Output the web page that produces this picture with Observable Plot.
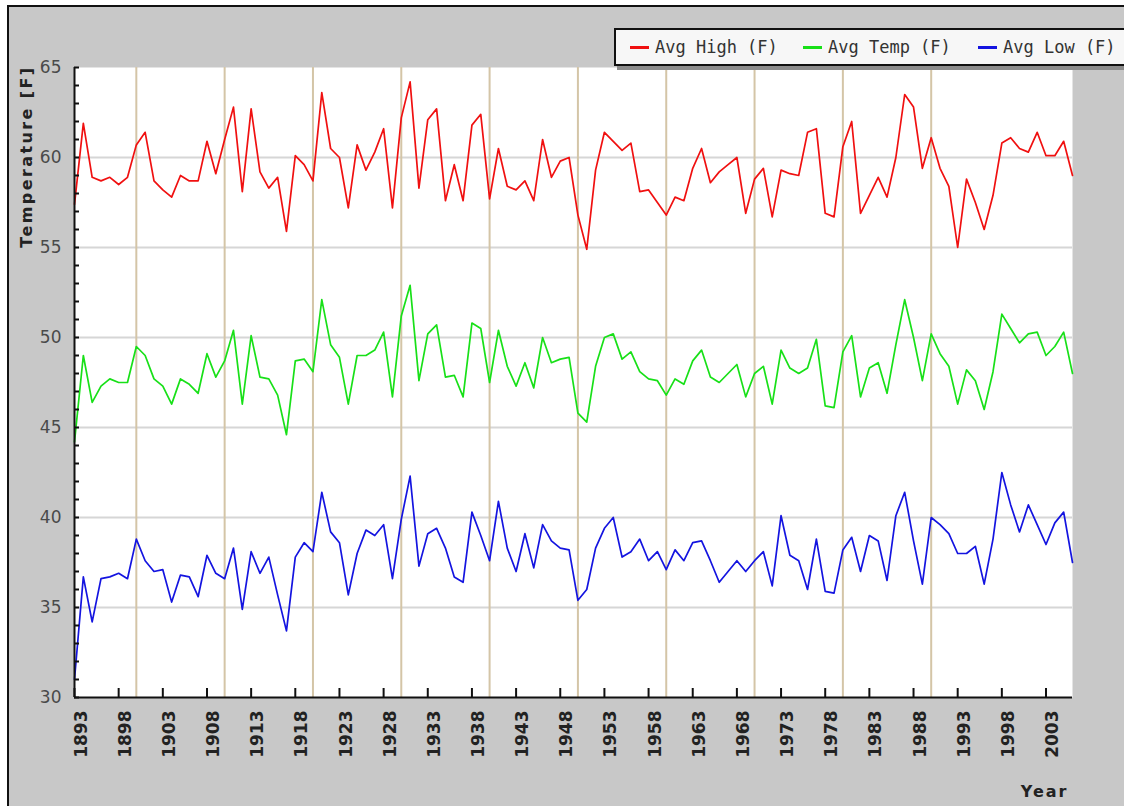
<!DOCTYPE html>
<html>
<head>
<meta charset="utf-8">
<script src="https://cdn.jsdelivr.net/npm/d3@7"></script>
<script src="https://cdn.jsdelivr.net/npm/@observablehq/plot@0.6"></script>
<style>
html, body { margin: 0; padding: 0; background: #ffffff; }
#wrap { position: relative; width: 1124px; height: 806px; overflow: hidden; }
#panel { position: absolute; left: 7px; top: 5px; width: 1200px; height: 900px; background: #c8c8c8; border-left: 2px solid #111; border-top: 2px solid #111; }
#chart { position: absolute; left: 0; top: 0; }
#legend { position: absolute; left: 614px; top: 28px; width: 540px; height: 34px; background: #f7f7f7; border: 2px solid #111; box-shadow: 3px 4px 0 #8c8c8c; font-family: "DejaVu Sans Mono", monospace; font-size: 17px; color: #333; }
.item { position: absolute; top: 0; height: 34px; display: flex; align-items: center; white-space: nowrap; }
.sw { width: 19px; height: 3px; margin-right: 6px; }
</style>
</head>
<body>
<div id="wrap">
  <div id="panel"></div>
  <div id="chart"></div>
  <div id="legend"></div>
</div>
<script>
const years = [1893,1894,1895,1896,1897,1898,1899,1900,1901,1902,1903,1904,1905,1906,1907,1908,1909,1910,1911,1912,1913,1914,1915,1916,1917,1918,1919,1920,1921,1922,1923,1924,1925,1926,1927,1928,1929,1930,1931,1932,1933,1934,1935,1936,1937,1938,1939,1940,1941,1942,1943,1944,1945,1946,1947,1948,1949,1950,1951,1952,1953,1954,1955,1956,1957,1958,1959,1960,1961,1962,1963,1964,1965,1966,1967,1968,1969,1970,1971,1972,1973,1974,1975,1976,1977,1978,1979,1980,1981,1982,1983,1984,1985,1986,1987,1988,1989,1990,1991,1992,1993,1994,1995,1996,1997,1998,1999,2000,2001,2002,2003,2004,2005,2006];

const avgHigh = [57.4,61.9,58.9,58.7,58.9,58.5,58.9,60.7,61.4,58.7,58.2,57.8,59.0,58.7,58.7,60.9,59.1,61.0,62.8,58.1,62.7,59.2,58.3,58.9,55.9,60.1,59.6,58.7,63.6,60.5,60.0,57.2,60.7,59.3,60.3,61.6,57.2,62.2,64.2,58.3,62.1,62.7,57.6,59.6,57.6,61.8,62.4,57.7,60.5,58.4,58.2,58.7,57.6,61.0,58.9,59.8,60.0,56.8,54.9,59.3,61.4,60.9,60.4,60.8,58.1,58.2,57.5,56.8,57.8,57.6,59.4,60.5,58.6,59.2,59.6,60.0,56.9,58.8,59.4,56.7,59.3,59.1,59.0,61.4,61.6,56.9,56.7,60.6,62.0,56.9,57.9,58.9,57.8,60.0,63.5,62.8,59.4,61.1,59.4,58.4,55.0,58.8,57.5,56.0,57.9,60.8,61.1,60.5,60.3,61.4,60.1,60.1,60.9,59.0];

const avgTemp = [44.2,49.0,46.4,47.3,47.7,47.5,47.5,49.5,49.0,47.7,47.3,46.3,47.7,47.4,46.9,49.1,47.8,48.7,50.4,46.3,50.1,47.8,47.7,46.8,44.6,48.7,48.8,48.1,52.1,49.6,48.9,46.3,49.0,49.0,49.3,50.3,46.7,51.2,52.9,47.6,50.2,50.7,47.8,47.9,46.7,50.8,50.5,47.5,50.4,48.4,47.3,48.6,47.2,50.0,48.6,48.8,48.9,45.8,45.3,48.4,50.0,50.2,48.8,49.2,48.1,47.7,47.6,46.8,47.7,47.4,48.7,49.3,47.8,47.5,48.0,48.5,46.7,48.0,48.4,46.3,49.3,48.3,48.0,48.3,49.9,46.2,46.1,49.2,50.1,46.7,48.3,48.6,46.9,49.6,52.1,50.0,47.6,50.2,49.1,48.4,46.3,48.2,47.6,46.0,48.1,51.3,50.5,49.7,50.2,50.3,49.0,49.5,50.3,48.0];

const avgLow = [31.0,36.7,34.2,36.6,36.7,36.9,36.6,38.8,37.6,37.0,37.1,35.3,36.8,36.7,35.6,37.9,36.9,36.6,38.3,34.9,38.1,36.9,37.8,35.7,33.7,37.8,38.6,38.1,41.4,39.2,38.6,35.7,38.0,39.3,39.0,39.6,36.6,39.9,42.3,37.3,39.1,39.4,38.3,36.7,36.4,40.3,39.0,37.6,40.9,38.3,37.0,39.1,37.2,39.6,38.7,38.3,38.2,35.4,36.0,38.3,39.4,40.0,37.8,38.1,38.8,37.6,38.1,37.1,38.2,37.6,38.6,38.7,37.6,36.4,37.0,37.6,37.0,37.6,38.1,36.2,40.1,37.9,37.6,36.0,38.8,35.9,35.8,38.2,38.9,37.0,39.0,38.7,36.5,40.1,41.4,38.7,36.3,40.0,39.6,39.1,38.0,38.0,38.4,36.3,38.8,42.5,40.7,39.2,40.7,39.6,38.5,39.7,40.3,37.5];

const seriesNames = ["Avg High (F)", "Avg Temp (F)", "Avg Low (F)"];
const seriesColors = ["#f01010", "#18e018", "#1414e0"];
const xTickYears = [1893,1898,1903,1908,1913,1918,1923,1928,1933,1938,1943,1948,1953,1958,1963,1968,1973,1978,1983,1988,1993,1998,2003];
const decadeYears = [1900,1910,1920,1930,1940,1950,1960,1970,1980,1990];
const yTicks = [30,35,40,45,50,55,60,65];
const yMinorTicks = [30,31,32,33,34,35,36,37,38,39,40,41,42,43,44,45,46,47,48,49,50,51,52,53,54,55,56,57,58,59,60,61,62,63,64,65];
const gridValues = [35,40,45,50,55,60];
const yTitle = "Temperature [F]";
const xTitle = "Year";

const seriesValues = [avgHigh, avgTemp, avgLow];
const rows = [];
seriesValues.forEach((vals, s) => vals.forEach((v, i) => rows.push({year: years[i], value: v, series: seriesNames[s]})));

const chart = Plot.plot({
  width: 1124,
  height: 806,
  marginLeft: 74,
  marginRight: 52,
  marginTop: 67,
  marginBottom: 109,
  style: {background: "transparent", fontFamily: "DejaVu Sans", overflow: "visible"},
  x: {domain: [1893, 2006]},
  y: {domain: [30, 65]},
  color: {domain: seriesNames, range: seriesColors},
  marks: [
    Plot.frame({fill: "white", stroke: "none"}),
    Plot.ruleY(gridValues, {stroke: "#d6d6d6", strokeWidth: 2}),
    Plot.ruleX(decadeYears, {stroke: "#d4c5a7", strokeWidth: 2}),
    Plot.lineY(rows, {x: "year", y: "value", z: "series", stroke: "series", strokeWidth: 1.7}),
    Plot.axisY({ticks: yMinorTicks, tickSize: 5, dx: 5, text: null, label: null, stroke: "#111", strokeWidth: 2}),
    Plot.axisY({ticks: yTicks, tickSize: 0, tickPadding: 13, label: null, fontSize: 17, fill: "#4a4a4a"}),
    Plot.axisX({ticks: xTickYears, tickSize: 9, dy: -9, text: null, label: null, stroke: "#111", strokeWidth: 2}),
    Plot.axisX({ticks: xTickYears, tickSize: 0, tickPadding: 13, rotate: -90, textAnchor: "end", fontWeight: "bold", fontSize: 17, fill: "#222", label: null, tickFormat: "d"}),
    Plot.ruleX([1893], {stroke: "#111", strokeWidth: 2}),
    Plot.ruleY([30], {stroke: "#111", strokeWidth: 2}),
    Plot.text([yTitle], {text: d => d, frameAnchor: "top-left", dx: -54, dy: -2, rotate: -90, textAnchor: "end", fontWeight: "bold", fontSize: 16, fill: "#222", ariaLabel: () => "ytitle"}),
    Plot.text([xTitle], {text: d => d, frameAnchor: "bottom-right", dx: -4, dy: 99, textAnchor: "end", fontWeight: "bold", fontSize: 16, fill: "#222", ariaLabel: () => "xtitle"})
  ]
});

d3.select(chart).selectAll("text").filter(function() { return this.textContent === yTitle; }).style("letter-spacing", "2.4px");
d3.select(chart).selectAll("text").filter(function() { return this.textContent === xTitle; }).style("letter-spacing", "2px");
document.getElementById("chart").appendChild(chart);

const legend = document.getElementById("legend");
const itemLefts = [14, 187, 362];
seriesNames.forEach((name, i) => {
  const item = document.createElement("div");
  item.className = "item";
  item.style.left = itemLefts[i] + "px";
  const sw = document.createElement("div");
  sw.className = "sw";
  sw.style.background = seriesColors[i];
  const label = document.createElement("span");
  label.textContent = name;
  item.appendChild(sw);
  item.appendChild(label);
  legend.appendChild(item);
});
</script>
</body>
</html>
